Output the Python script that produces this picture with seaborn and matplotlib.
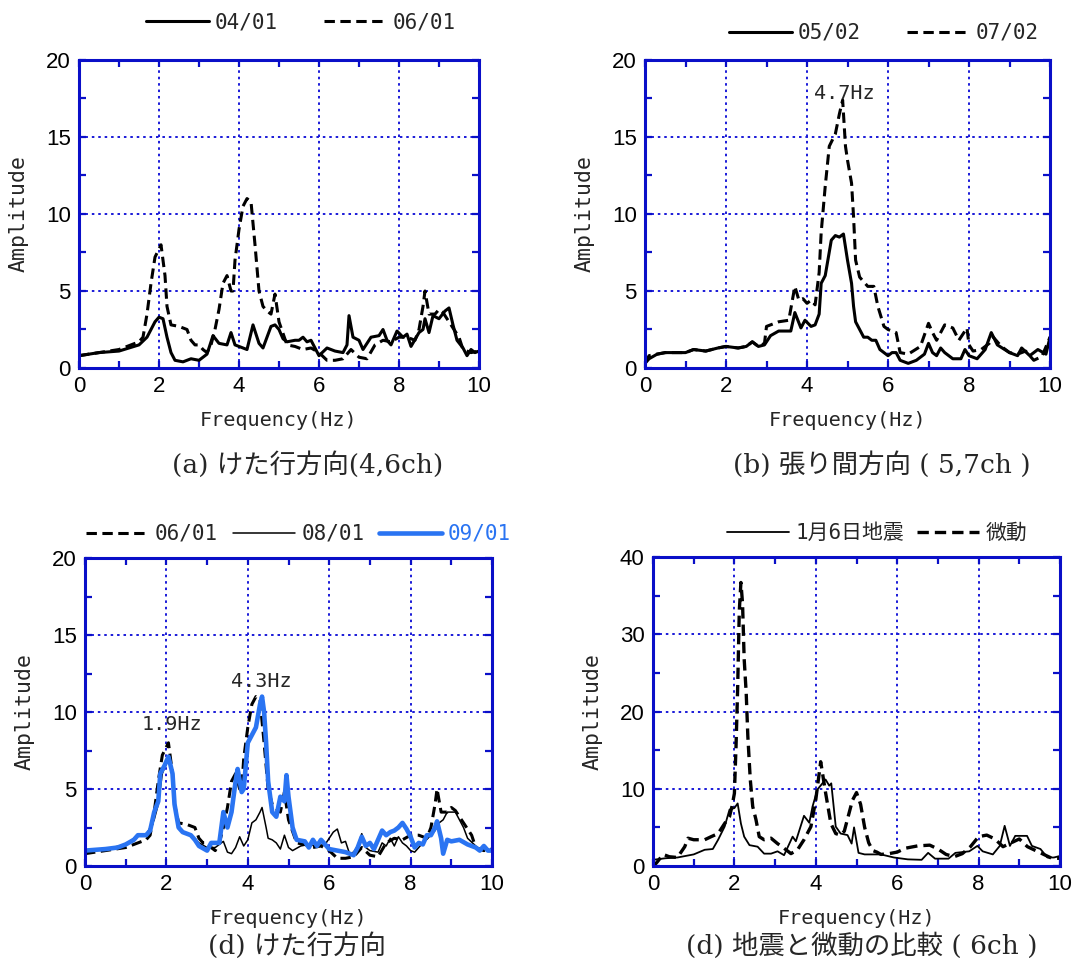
import matplotlib
matplotlib.use("Agg")
import matplotlib.pyplot as plt
import matplotlib.font_manager as fm
from matplotlib.ticker import MultipleLocator
import seaborn as sns

# ---------------- data ----------------
# (a) girder direction, 4/6ch
a_0401_f = [0, 0.5, 1.0, 1.5, 1.7, 1.9, 2.0, 2.1, 2.2, 2.3, 2.4, 2.6, 2.8, 3.0, 3.2, 3.35, 3.5, 3.7, 3.8, 3.9,
            4.1, 4.2, 4.35, 4.5, 4.6, 4.8, 4.9, 5.0, 5.1, 5.2, 5.4, 5.5, 5.6, 5.7, 5.8, 5.9, 6.0, 6.2, 6.4, 6.6,
            6.7, 6.75, 6.85, 7.0, 7.1, 7.3, 7.5, 7.6, 7.7, 7.8, 7.95, 8.1, 8.2, 8.3, 8.5, 8.6, 8.65, 8.75, 8.85, 9.0,
            9.15, 9.25, 9.35, 9.45, 9.6, 9.7, 9.8, 9.9, 10]
a_0401_a = [0.8, 1.0, 1.1, 1.5, 2.0, 3.0, 3.3, 3.2, 2.0, 1.0, 0.5, 0.4, 0.6, 0.5, 0.9, 2.1, 1.6, 1.5, 2.3, 1.5,
            1.3, 1.2, 2.8, 1.6, 1.3, 2.7, 2.8, 2.5, 1.9, 1.7, 1.8, 1.8, 2.0, 1.7, 1.8, 1.3, 0.8, 1.3, 1.1, 1.0,
            1.5, 3.4, 2.0, 1.8, 1.2, 2.0, 2.1, 2.5, 1.8, 1.5, 2.4, 2.0, 2.2, 1.4, 2.3, 2.5, 3.2, 2.3, 3.4, 3.2,
            3.7, 3.9, 2.8, 1.8, 1.3, 0.8, 1.2, 1.0, 1.1]

# 06/01 (used in panel a and panel c)
d0601_f = [0, 0.5, 1.0, 1.2, 1.5, 1.6, 1.7, 1.8, 1.9, 2.05, 2.15, 2.2, 2.3, 2.5, 2.7, 2.8, 2.9, 3.0, 3.1, 3.2,
           3.3, 3.4, 3.5, 3.6, 3.7, 3.8, 3.85, 3.9, 4.0, 4.1, 4.2, 4.3, 4.4, 4.5, 4.6, 4.7, 4.8, 4.9, 5.0, 5.2,
           5.4, 5.6, 5.8, 6.0, 6.2, 6.4, 6.6, 6.8, 7.0, 7.2, 7.4, 7.6, 7.8, 8.0, 8.2, 8.4, 8.5, 8.6, 8.65, 8.75,
           8.9, 9.0, 9.1, 9.3, 9.5, 9.6, 9.8, 10]
d0601_a = [0.8, 1.0, 1.2, 1.4, 1.7, 2.0, 3.5, 5.5, 7.2, 8.0, 6.0, 4.0, 2.8, 2.7, 2.5, 1.8, 1.5, 1.5, 1.2, 1.0,
           1.5, 2.5, 3.8, 5.5, 6.0, 5.0, 5.0, 7.0, 9.0, 10.5, 11.0, 10.8, 8.0, 5.0, 4.0, 3.7, 3.5, 4.8, 3.0, 1.5,
           1.4, 1.2, 1.3, 1.0, 0.5, 0.5, 0.6, 1.2, 0.7, 0.6, 1.5, 1.8, 1.7, 2.0, 2.0, 1.8, 2.5, 4.0, 5.0, 3.5,
           3.5, 3.8, 3.6, 2.8, 2.0, 1.2, 1.0, 1.1]

# (b) span direction, 5/7ch
b_0502_f = [0, 0.1, 0.3, 0.5, 1.0, 1.2, 1.5, 1.8, 2.0, 2.3, 2.5, 2.65, 2.8, 2.95, 3.1, 3.3, 3.6, 3.7, 3.85, 3.95,
            4.1, 4.2, 4.3, 4.35, 4.45, 4.6, 4.7, 4.8, 4.9, 5.0, 5.1, 5.15, 5.2, 5.3, 5.4, 5.5, 5.6, 5.7, 5.8, 6.0,
            6.1, 6.2, 6.3, 6.5, 6.7, 6.9, 7.0, 7.1, 7.2, 7.3, 7.4, 7.6, 7.8, 7.9, 8.0, 8.2, 8.4, 8.55, 8.7, 9.0,
            9.2, 9.3, 9.5, 9.7, 9.9, 10]
b_0502_a = [0.3, 0.6, 0.9, 1.0, 1.0, 1.2, 1.1, 1.3, 1.4, 1.3, 1.4, 1.7, 1.4, 1.5, 2.1, 2.4, 2.4, 3.6, 2.6, 3.1,
            2.7, 2.8, 3.5, 5.5, 6.0, 8.3, 8.6, 8.5, 8.7, 7.0, 5.5, 4.0, 3.0, 2.5, 2.0, 2.0, 1.8, 1.8, 1.2, 0.8,
            1.0, 1.0, 0.5, 0.3, 0.5, 0.9, 1.6, 1.0, 0.8, 1.3, 1.0, 0.6, 0.6, 1.2, 0.8, 0.6, 1.2, 2.3, 1.5, 1.0,
            0.8, 1.3, 0.8, 1.2, 0.9, 2.0]
b_0702_f = [0, 0.1, 0.3, 0.5, 1.0, 1.2, 1.5, 1.8, 2.0, 2.3, 2.5, 2.65, 2.8, 2.95, 3.0, 3.3, 3.55, 3.7, 3.8, 3.9,
            4.0, 4.1, 4.2, 4.3, 4.35, 4.45, 4.55, 4.7, 4.8, 4.88, 4.95, 5.0, 5.1, 5.15, 5.2, 5.3, 5.5, 5.65, 5.75, 5.9,
            6.0, 6.2, 6.3, 6.5, 6.8, 7.0, 7.1, 7.2, 7.4, 7.6, 7.75, 7.95, 8.0, 8.1, 8.3, 8.5, 8.6, 8.8, 9.0, 9.2,
            9.4, 9.6, 9.8, 10]
b_0702_a = [0.3, 0.8, 0.9, 1.0, 1.0, 1.2, 1.1, 1.3, 1.4, 1.3, 1.4, 1.7, 1.4, 1.6, 2.7, 3.0, 3.1, 5.3, 4.4, 4.5,
            4.2, 4.4, 4.1, 6.2, 8.8, 11.8, 14.4, 15.2, 16.5, 17.4, 14.4, 13.5, 12.0, 9.8, 7.0, 5.9, 5.3, 5.3, 4.0, 2.7,
            2.5, 2.3, 1.0, 0.9, 1.4, 2.9, 2.3, 1.8, 2.8, 2.6, 1.8, 2.6, 1.5, 1.1, 1.2, 1.6, 2.0, 1.4, 1.0, 0.9,
            1.1, 0.5, 0.75, 2.0]

# (c) girder direction, three dates
c_0801_f = [0, 0.5, 1.0, 1.3, 1.5, 1.7, 1.8, 1.9, 2.05, 2.15, 2.2, 2.3, 2.4, 2.6, 2.8, 3.0, 3.2, 3.4, 3.5, 3.6,
            3.7, 3.8, 3.9, 4.0, 4.1, 4.2, 4.3, 4.35, 4.45, 4.5, 4.6, 4.7, 4.8, 4.9, 5.0, 5.1, 5.3, 5.5, 5.7, 5.9,
            6.0, 6.1, 6.2, 6.3, 6.4, 6.5, 6.6, 6.7, 6.8, 6.9, 7.0, 7.2, 7.3, 7.4, 7.5, 7.6, 7.7, 7.8, 7.9, 8.0,
            8.1, 8.3, 8.5, 8.6, 8.7, 8.8, 8.9, 9.0, 9.1, 9.2, 9.3, 9.4, 9.6, 9.7, 9.8, 10]
c_0801_a = [1.0, 1.1, 1.4, 2.0, 2.0, 3.0, 4.0, 6.0, 7.0, 6.0, 4.0, 2.5, 2.2, 2.0, 1.5, 1.2, 1.2, 1.6, 0.9, 0.8,
            1.2, 1.9, 1.3, 1.7, 2.8, 3.0, 3.5, 3.8, 2.5, 1.8, 1.7, 1.5, 1.1, 2.0, 1.2, 1.0, 1.3, 1.4, 1.3, 1.4,
            1.8, 2.2, 2.4, 1.5, 1.6, 0.8, 0.9, 1.3, 2.1, 1.2, 1.0, 0.9, 1.5, 1.3, 1.8, 1.3, 1.9, 1.5, 1.3, 1.0,
            0.9, 1.5, 2.0, 2.3, 2.8, 3.0, 3.5, 3.5, 3.5, 3.0, 2.5, 1.8, 1.3, 1.0, 1.2, 1.0]
c_0901_f = [0, 0.5, 0.8, 1.0, 1.2, 1.3, 1.5, 1.6, 1.7, 1.8, 1.85, 1.95, 2.05, 2.15, 2.2, 2.3, 2.4, 2.6, 2.7, 2.8,
            3.0, 3.1, 3.3, 3.4, 3.5, 3.6, 3.7, 3.75, 3.85, 3.9, 4.0, 4.1, 4.2, 4.3, 4.35, 4.4, 4.45, 4.5, 4.6, 4.7,
            4.8, 4.9, 4.95, 5.0, 5.1, 5.2, 5.4, 5.5, 5.6, 5.7, 5.8, 5.9, 6.0, 6.2, 6.4, 6.5, 6.6, 6.7, 6.8, 6.9,
            7.0, 7.1, 7.3, 7.4, 7.5, 7.6, 7.7, 7.8, 7.9, 8.0, 8.1, 8.2, 8.3, 8.4, 8.5, 8.6, 8.65, 8.75, 8.8, 8.9,
            9.0, 9.2, 9.4, 9.6, 9.7, 9.8, 9.9, 10]
c_0901_a = [1.0, 1.1, 1.2, 1.4, 1.7, 2.0, 2.0, 2.3, 3.5, 4.2, 6.0, 6.5, 7.1, 6.0, 4.0, 2.5, 2.2, 2.0, 1.7, 1.3,
            1.0, 1.5, 1.5, 3.5, 2.5, 3.5, 5.5, 6.3, 4.8, 5.0, 8.0, 8.5, 9.0, 10.5, 11.0, 10.0, 8.0, 5.5, 3.5, 3.2,
            4.5, 4.2, 5.9, 4.5, 2.5, 1.7, 1.6, 1.2, 1.7, 1.3, 1.7, 1.4, 1.1, 1.0, 0.9, 0.8, 0.7, 1.2, 1.9, 1.3,
            1.5, 1.1, 2.3, 2.0, 2.2, 2.3, 2.5, 2.8, 2.4, 1.9, 1.2, 1.5, 1.4, 2.0, 2.0, 2.5, 2.9, 1.8, 0.8, 1.7,
            1.6, 1.7, 1.4, 1.2, 1.0, 1.3, 1.0, 1.0]

# (d) earthquake vs microtremor, 6ch
d_eq_f = [0, 0.3, 0.6, 1.0, 1.27, 1.47, 1.6, 1.76, 1.88, 2.0, 2.08, 2.16, 2.24, 2.37, 2.57, 2.73, 2.9, 3.06, 3.22, 3.43,
          3.51, 3.71, 3.84, 3.92, 4.04, 4.24, 4.33, 4.38, 4.49, 4.61, 4.78, 4.88, 4.94, 5.05, 5.2, 5.6, 5.92, 6.26, 6.6, 6.76,
          6.93, 7.26, 7.43, 7.77, 7.97, 8.1, 8.35, 8.52, 8.64, 8.77, 8.9, 9.19, 9.31, 9.52, 9.69, 9.85, 10]
d_eq_a = [0.8, 1.0, 1.1, 1.5, 2.1, 2.2, 3.4, 5.1, 7.3, 7.5, 8.1, 5.5, 3.8, 2.7, 2.5, 1.6, 1.6, 1.9, 1.4, 3.8,
          3.2, 6.5, 5.6, 7.7, 9.9, 11.2, 10.4, 10.7, 5.1, 4.2, 4.0, 2.9, 5.0, 1.7, 1.5, 1.5, 1.1, 0.86, 0.8, 1.7,
          0.95, 0.95, 1.7, 1.9, 2.6, 1.9, 1.5, 2.6, 5.2, 2.6, 3.9, 3.9, 2.6, 2.2, 1.1, 1.1, 1.3]
d_mt_f = [0, 0.05, 0.1, 0.25, 0.4, 0.6, 0.78, 0.86, 1.0, 1.27, 1.43, 1.6, 1.76, 1.88, 1.94, 2.0, 2.04, 2.08, 2.12, 2.16,
          2.2, 2.24, 2.29, 2.33, 2.39, 2.45, 2.53, 2.61, 2.73, 2.9, 3.06, 3.22, 3.39, 3.55, 3.71, 3.88, 4.0, 4.12, 4.24, 4.37,
          4.49, 4.6, 4.7, 4.8, 4.9, 5.0, 5.1, 5.2, 5.3, 5.4, 5.5, 5.6, 5.8, 6.0, 6.2, 6.5, 6.8, 7.0, 7.2, 7.4,
          7.6, 7.8, 8.0, 8.2, 8.4, 8.6, 8.8, 9.0, 9.2, 9.4, 9.6, 9.8, 10]
d_mt_a = [0.0, 0.2, 0.5, 1.5, 1.2, 1.1, 2.5, 3.6, 3.4, 3.4, 3.8, 4.2, 5.5, 6.4, 7.7, 9.4, 15.5, 23.0, 33.0, 36.7,
          34.0, 26.8, 22.4, 16.8, 11.2, 7.7, 6.0, 3.8, 3.4, 3.6, 2.9, 2.3, 1.6, 2.1, 3.4, 5.1, 8.6, 13.5, 9.5, 5.5,
          4.2, 4.0, 4.5, 6.5, 8.5, 9.5, 8.0, 5.0, 3.0, 2.0, 1.8, 1.5, 1.6, 1.8, 2.3, 2.6, 2.7, 2.2, 1.5, 1.2,
          1.6, 2.5, 3.8, 4.0, 3.5, 2.5, 3.0, 3.5, 2.5, 2.0, 1.5, 1.0, 1.0]

legend_a = ["04/01", "06/01"]
legend_b = ["05/02", "07/02"]
legend_c = ["06/01", "08/01", "09/01"]
legend_d = ["1月6日地震", "微動"]
titles = ["(a) けた行方向(4,6ch)", "(b) 張り間方向 ( 5,7ch )", "(d) けた行方向", "(d) 地震と微動の比較 ( 6ch )"]

# ---------------- style ----------------
sns.set_style("white")
names = {f.name for f in fm.fontManager.ttflist}
if "Liberation Sans Narrow" in names:
    TICK_FONT, TICK_SIZE = "Liberation Sans Narrow", 17
else:
    TICK_FONT, TICK_SIZE = "Liberation Sans", 16
MONO = "DejaVu Sans Mono"
JP = "Noto Sans CJK JP"
plt.rcParams["font.family"] = ["DejaVu Sans", JP]
MONO_SIZE = 14.5

FRAME = "#0a0fc8"
GRID = "#1a1ad8"
BLUE = "#2a74f2"
DASH = (0, (3.4, 1.8))

W, H = 1082, 961
fig = plt.figure(figsize=(W / 100, H / 100), dpi=100)


def add_ax(x0, x1, y0, y1):
    return fig.add_axes([x0 / W, 1 - y1 / H, (x1 - x0) / W, (y1 - y0) / H])


def style(ax, ymax, ystep, yminor):
    ax.set_xlim(0, 10)
    ax.set_ylim(0, ymax)
    ax.xaxis.set_major_locator(MultipleLocator(2))
    ax.xaxis.set_minor_locator(MultipleLocator(1))
    ax.yaxis.set_major_locator(MultipleLocator(ystep))
    ax.yaxis.set_minor_locator(MultipleLocator(yminor))
    ax.tick_params(which="both", direction="in", top=True, right=True, bottom=True, left=True,
                   color=FRAME, width=1.6, length=5)
    ax.tick_params(which="major", labelsize=TICK_SIZE, pad=6, labelcolor="black",
                   labelfontfamily=TICK_FONT)
    for s in ax.spines.values():
        s.set_color(FRAME)
        s.set_linewidth(2.2)
        s.set_visible(True)
    ax.set_axisbelow(True)
    ax.grid(True, which="major", color=GRID, linestyle=(0, (1.3, 2.0)), linewidth=1.4)
    ax.set_xlabel("Frequency(Hz)", fontfamily=MONO, fontsize=MONO_SIZE)
    ax.set_ylabel("Amplitude", fontfamily=MONO, fontsize=MONO_SIZE + 1)
    ax.yaxis.set_label_coords(-0.125, 0.5)
    ax.xaxis.set_label_coords(0.5, -0.14)


def line(ax, f, a, label, color="black", lw=2.2, ls="-"):
    sns.lineplot(x=f, y=a, ax=ax, color=color, linewidth=lw, linestyle=ls, label=label,
                 estimator=None, sort=False)


def legend(ax, cx, cy, ncol, colsp):
    leg = ax.legend(loc="center", bbox_to_anchor=(cx, cy), ncol=ncol, frameon=False,
                    prop={"family": [MONO, JP], "size": MONO_SIZE + 0.5}, handlelength=3.0,
                    handletextpad=0.3, columnspacing=colsp, borderaxespad=0, borderpad=0)
    return leg


# (a)
ax1 = add_ax(79, 479, 60, 368)
line(ax1, a_0401_f, a_0401_a, legend_a[0])
line(ax1, d0601_f, d0601_a, legend_a[1], ls=DASH)
style(ax1, 20, 5, 2.5)
legend(ax1, 0.555, 1.123, 2, 2.2)

# (b)
ax2 = add_ax(645, 1050, 60, 368)
line(ax2, b_0502_f, b_0502_a, legend_b[0])
line(ax2, b_0702_f, b_0702_a, legend_b[1], ls=DASH)
style(ax2, 20, 5, 2.5)
legend(ax2, 0.59, 1.088, 2, 2.2)
ax2.text(4.93, 17.8, "4.7Hz", fontfamily=MONO, fontsize=MONO_SIZE, ha="center", va="center")

# (c)
ax3 = add_ax(85, 492, 558, 866)
line(ax3, d0601_f, d0601_a, legend_c[0], ls=DASH)
line(ax3, c_0801_f, c_0801_a, legend_c[1], lw=1.1)
line(ax3, c_0901_f, c_0901_a, legend_c[2], color=BLUE, lw=3.3)
style(ax3, 20, 5, 2.5)
leg = legend(ax3, 0.525, 1.078, 3, 0.7)
leg.get_texts()[2].set_color(BLUE)
ax3.text(2.14, 9.2, "1.9Hz", fontfamily=MONO, fontsize=MONO_SIZE, ha="center", va="center")
ax3.text(4.33, 12.0, "4.3Hz", fontfamily=MONO, fontsize=MONO_SIZE, ha="center", va="center")

# (d)
ax4 = add_ax(653, 1060, 557, 866)
line(ax4, d_eq_f, d_eq_a, legend_d[0], lw=1.3)
line(ax4, d_mt_f, d_mt_a, legend_d[1], ls=DASH, lw=2.4)
style(ax4, 40, 10, 5)
legend(ax4, 0.55, 1.077, 2, 0.6)

# subtitles
sub_font = ["DejaVu Serif", JP]
for (x, y), t in zip([(308, 465), (882, 465), (297, 946), (862, 946)], titles):
    fig.text(x / W, 1 - y / H, t, ha="center", va="center", fontsize=19,
             family=sub_font, fontweight="normal")

fig.savefig("out.png", dpi=100)
